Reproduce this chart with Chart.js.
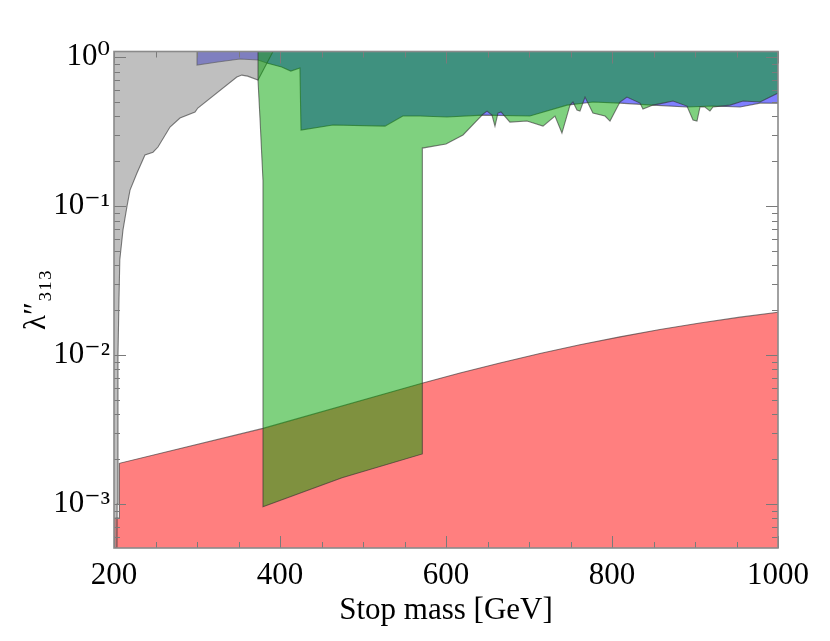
<!DOCTYPE html>
<html>
<head>
<meta charset="utf-8">
<script src="https://cdn.jsdelivr.net/npm/chart.js@4.4.1/dist/chart.umd.min.js"></script>
<style>
  html, body { margin: 0; padding: 0; background: #ffffff; }
  #wrap { width: 830px; height: 641px; position: relative; }
</style>
</head>
<body>
<div id="wrap"><canvas id="c"></canvas></div>
<script>
// ---- axis ranges and tick labels ----
const Y_MIN = 5.07e-4;
const Y_MAX = 1.09;
const X_MIN = 200;
const X_MAX = 1000;
const xTickValues = [200, 400, 600, 800, 1000];
const xTickLabels = ['200', '400', '600', '800', '1000'];
const yTickValues = [1e-3, 1e-2, 1e-1, 1];
const yTickLabels = ['10\u207B\u00B3', '10\u207B\u00B2', '10\u207B\u00B9', '10\u2070'];

// ---- red region (filled from bottom up to the boundary) ----
const redMass = [200, 206.5, 206.5, 379.5, 571.1, 616.9, 665, 713.2, 761.4, 809.6, 857.8, 906, 954.2, 1000];
const redLambda = [8.05e-4, 8.05e-4, 1.876e-3, 3.22e-3, 6.46e-3, 7.57e-3, 8.85e-3, 0.01023, 0.01173, 0.01325, 0.01483, 0.01642, 0.01796, 0.01937];

// ---- gray region (filled from boundary up to the top) ----
const grayMass = [200, 203.6, 203.8, 204.8, 206, 207, 210.8, 215.7, 219.3, 227.7, 237.3, 247, 253, 267.5, 279.5, 297.6, 301, 348, 354, 361, 373.5, 391.6];
const grayLambda = [Y_MIN, Y_MIN, 1e-3, 0.01, 0.0234, 0.0436, 0.069, 0.1, 0.128, 0.1665, 0.22, 0.23, 0.249, 0.339, 0.39, 0.428, 0.455, 0.734, 0.757, 0.745, 0.701, Y_MAX];

// ---- blue region (filled from boundary up to the top) ----
const blueMass = [300, 300, 325, 351.8, 373.5, 384, 402, 413, 424, 425.3, 463.8, 526.5, 548, 568.7, 601, 644.6, 701, 745.8, 777, 809.6, 849.4, 890.3, 921.7, 954.2, 978.3, 1000];
const blueLambda = [Y_MAX, 0.884, 0.926, 0.97, 0.955, 0.912, 0.857, 0.805, 0.844, 0.324, 0.35, 0.344, 0.402, 0.402, 0.396, 0.408, 0.402, 0.476, 0.499, 0.491, 0.476, 0.462, 0.469, 0.462, 0.491, 0.49];

// ---- green region (filled from boundary up to the top) ----
const greenMass = [373.5, 373.5, 376, 378.3, 379.5, 379.5, 474.7, 571.5, 571.5, 600, 620.5, 644.6, 649.4, 655.4, 659, 662.6, 666.3, 677, 697.6, 716.9, 731.3, 739.7, 749.4, 753, 757.8, 761.4, 767.5, 777, 791.6, 797.6, 809.6, 818, 833.7, 837.3, 849.4, 861.4, 873.5, 890.3, 897.6, 902.4, 906, 912, 918, 921.7, 942.2, 957.8, 978.3, 1000];
const greenLambda = [Y_MAX, 0.70, 0.378, 0.204, 0.149, 9.6e-4, 1.50e-3, 2.17e-3, 0.245, 0.261, 0.30, 0.414, 0.434, 0.408, 0.344, 0.421, 0.428, 0.366, 0.372, 0.344, 0.402, 0.309, 0.476, 0.499, 0.441, 0.434, 0.539, 0.421, 0.402, 0.372, 0.499, 0.539, 0.491, 0.448, 0.476, 0.491, 0.507, 0.469, 0.378, 0.372, 0.462, 0.462, 0.434, 0.462, 0.476, 0.507, 0.499, 0.573];

const toPts = (xs, ys) => xs.map((x, i) => ({ x: x, y: ys[i] }));
const EDGE = 'rgba(45,45,45,0.6)';

function region(label, xs, ys, fill, color, order) {
  return {
    label: label,
    data: toPts(xs, ys),
    showLine: true,
    fill: fill,
    backgroundColor: color,
    borderColor: EDGE,
    borderWidth: 1.1,
    pointRadius: 0,
    pointHoverRadius: 0,
    tension: 0,
    order: order
  };
}

// frame and inward ticks on all four sides, positioned through the chart scales
const framePlugin = {
  id: 'frame',
  afterDatasetsDraw(chart) {
    const ctx = chart.ctx;
    const a = chart.chartArea;
    const xs = chart.scales.x, ys = chart.scales.y;
    ctx.save();
    ctx.strokeStyle = '#7a7a7a';
    ctx.lineWidth = 1;
    ctx.beginPath();
    for (let v = X_MIN; v <= X_MAX; v += 50) {
      const px = Math.round(xs.getPixelForValue(v)) + 0.5;
      const len = (v % 200 === 0) ? 12 : 6;
      ctx.moveTo(px, a.bottom); ctx.lineTo(px, a.bottom - len);
      ctx.moveTo(px, a.top); ctx.lineTo(px, a.top + len);
    }
    for (let n = -4; n <= 0; n++) {
      for (let k = 1; k <= 9; k++) {
        const v = k * Math.pow(10, n);
        if (v < Y_MIN || v > Y_MAX) continue;
        const py = Math.round(ys.getPixelForValue(v)) + 0.5;
        const len = (k === 1) ? 12 : 6;
        ctx.moveTo(a.left, py); ctx.lineTo(a.left + len, py);
        ctx.moveTo(a.right, py); ctx.lineTo(a.right - len, py);
      }
    }
    ctx.stroke();
    ctx.lineWidth = 1.6;
    ctx.strokeStyle = '#8a8a8a';
    ctx.strokeRect(a.left, a.top, a.right - a.left, a.bottom - a.top);
    ctx.restore();
  }
};

Chart.defaults.font.family = "'Liberation Serif', 'DejaVu Serif', serif";
Chart.defaults.color = '#000000';

new Chart(document.getElementById('c'), {
  type: 'scatter',
  data: {
    datasets: [
      region('green', greenMass, greenLambda, 'end', 'rgba(0,164,0,0.5)', 1),
      region('gray', grayMass, grayLambda, 'end', 'rgba(128,128,128,0.5)', 2),
      region('blue', blueMass, blueLambda, 'end', 'rgba(0,0,255,0.5)', 3),
      region('red', redMass, redLambda, 'start', 'rgba(255,0,0,0.5)', 4)
    ]
  },
  options: {
    responsive: true,
    maintainAspectRatio: false,
    animation: false,
    devicePixelRatio: 1,
    layout: { padding: { top: 51.5, right: 52, bottom: 0, left: 0 } },
    plugins: {
      legend: { display: false },
      tooltip: { enabled: false },
      filler: { propagate: false }
    },
    scales: {
      x: {
        type: 'linear',
        min: X_MIN, max: X_MAX,
        afterBuildTicks: (s) => { s.ticks = xTickValues.map(v => ({ value: v })); },
        afterFit: (s) => { s.height = 93; },
        grid: { display: false, drawTicks: false },
        border: { display: false },
        ticks: {
          padding: 9, font: { size: 31 }, maxRotation: 0, autoSkip: false,
          callback: (v) => { const i = xTickValues.indexOf(v); return i >= 0 ? xTickLabels[i] : ''; }
        },
        title: { display: true, text: 'Stop mass [GeV]', font: { size: 31 }, padding: { top: 0, bottom: 12 } }
      },
      y: {
        type: 'logarithmic',
        min: Y_MIN, max: Y_MAX,
        afterBuildTicks: (s) => { s.ticks = yTickValues.map(v => ({ value: v })); },
        afterFit: (s) => { s.width = 114; },
        grid: { display: false, drawTicks: false },
        border: { display: false },
        ticks: {
          padding: 4,
          font: { size: 31 },
          autoSkip: false,
          callback: (v) => { const i = yTickValues.indexOf(v); return i >= 0 ? yTickLabels[i] : ''; }
        },
        title: { display: true, text: 'λ\u2033\u2083\u2081\u2083', font: { size: 31 }, padding: { top: 18, bottom: 0 } }
      }
    }
  },
  plugins: [framePlugin]
});
</script>
</body>
</html>
